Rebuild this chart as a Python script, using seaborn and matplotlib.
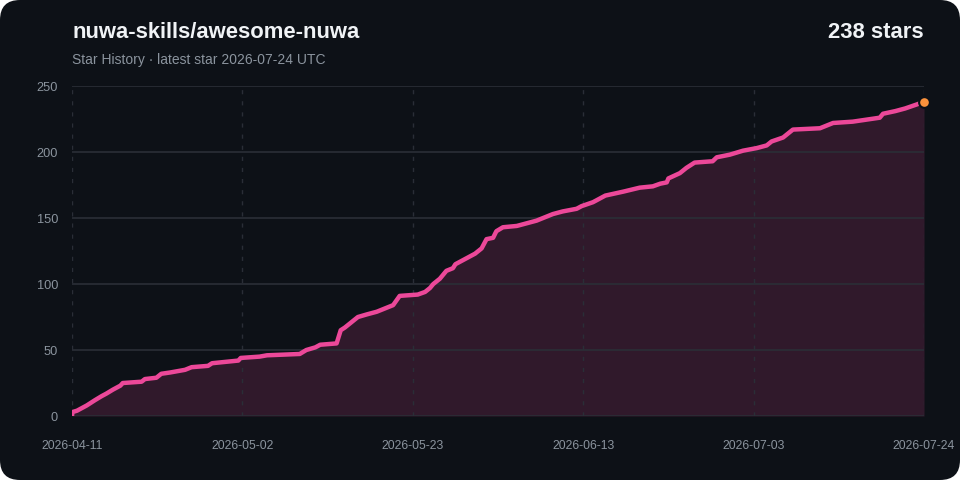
import numpy as np
import pandas as pd
import matplotlib
matplotlib.use("Agg")
import matplotlib.pyplot as plt
import matplotlib.dates as mdates
from matplotlib.patches import FancyBboxPatch
import seaborn as sns

# ---- data ----
title = "nuwa-skills/awesome-nuwa"
subtitle = "Star History \u00b7 latest star 2026-07-24 UTC"
total_label = "238 stars"
start_date = "2026-04-11"
end_date = "2026-07-24"
days = [0, 0.05, 0.6, 1.8, 2.8, 3.6, 4.2, 5.0, 5.9, 6.2, 8.5, 8.9, 10.3, 10.9, 12.0,
        13.8, 14.6, 16.6, 17.1, 20.3, 20.6, 22.9, 23.8, 27.8, 28.6, 29.7, 30.3, 32.3,
        32.5, 32.8, 33.3, 33.9, 34.9, 36.0, 37.2, 38.4, 39.2, 40.0, 42.2, 43.1, 43.7,
        44.1, 44.9, 45.7, 46.5, 46.8, 47.7, 48.3, 49.2, 50.0, 50.6, 51.4, 51.8, 52.6,
        54.3, 55.5, 56.7, 57.9, 58.7, 59.9, 61.6, 62.2, 63.6, 65.1, 67.3, 69.3, 70.9,
        71.8, 72.6, 72.8, 74.2, 75.0, 76.0, 78.2, 78.7, 80.3, 81.9, 83.6, 84.8, 85.4,
        86.8, 88.0, 91.3, 92.9, 95.3, 98.6, 99.0, 100.5, 101.7, 103.1, 104.0]
stars = [0, 3, 4, 8, 12, 15, 17, 20, 23, 25, 26, 28, 29, 32, 33,
         35, 37, 38, 40, 42, 44, 45, 46, 47, 50, 52, 54, 55,
         59, 65, 67, 70, 75, 77, 79, 82, 84, 91, 92, 94, 97,
         100, 104, 110, 112, 115, 118, 120, 123, 127, 134, 135, 140, 143,
         144, 146, 148, 151, 153, 155, 157, 159, 162, 167, 170, 173, 174,
         176, 177, 180, 184, 188, 192, 193, 196, 198, 201, 203, 205, 208,
         211, 217, 218, 222, 223, 226, 229, 231, 233, 236, 238]
x_tick_labels = ["2026-04-11", "2026-05-02", "2026-05-23", "2026-06-13", "2026-07-03", "2026-07-24"]
y_ticks = [0, 50, 100, 150, 200, 250]

# ---- colours ----
BG = "#0d1117"
PINK = "#ec4899"
ORANGE = "#fb923c"
GRID = "#2a2e37"
MUTED = "#8b949e"
WHITE = "#f0f3f6"

sns.set_theme(style="dark")
plt.rcParams["font.family"] = ["Liberation Sans", "DejaVu Sans"]

df = pd.DataFrame({
    "date": pd.to_datetime(start_date) + pd.to_timedelta(days, unit="D"),
    "stars": stars,
})

fig = plt.figure(figsize=(9.6, 4.8), dpi=100)
fig.patch.set_facecolor("white")
card = FancyBboxPatch((0, 0), 9.6, 4.8, boxstyle="round,pad=0,rounding_size=0.2",
                      transform=fig.dpi_scale_trans, facecolor=BG, edgecolor="none", zorder=-10)
fig.patches.append(card)

ax = fig.add_axes([0.075, 0.1333, 0.8875, 0.6875])
ax.set_zorder(1)
ax.set_facecolor(BG)
ax.patch.set_alpha(0)

ax.fill_between(df["date"], df["stars"], 0, color=PINK, alpha=0.16, linewidth=0, zorder=1)
sns.lineplot(data=df, x="date", y="stars", ax=ax, color=PINK, linewidth=3.2,
             solid_capstyle="round", solid_joinstyle="round", zorder=3)
ax.scatter([df["date"].iloc[-1]], [df["stars"].iloc[-1]], s=60, color=ORANGE,
           edgecolor=BG, linewidth=1.5, zorder=5, clip_on=False)

x0 = mdates.date2num(pd.to_datetime(start_date))
x1 = mdates.date2num(pd.to_datetime(end_date))
ax.set_xlim(x0, x1)
ax.set_ylim(0, 250)
xt = np.linspace(x0, x1, len(x_tick_labels))
ax.set_xticks(xt)
ax.set_xticklabels(x_tick_labels)
ax.set_yticks(y_ticks)
ax.set_yticklabels([str(v) for v in y_ticks])
ax.tick_params(axis="x", length=0, pad=17, labelsize=8.8, labelcolor=MUTED)
ax.tick_params(axis="y", length=0, pad=10, labelsize=9.2, labelcolor=MUTED)
ax.set_xlabel("")
ax.set_ylabel("")
for s in ax.spines.values():
    s.set_visible(False)

ax.grid(False)
for y in y_ticks:
    ax.axhline(y, color=GRID, linewidth=1.2, zorder=2)
for x in xt:
    ax.axvline(x, color=GRID, linewidth=1.0, linestyle=(0, (3, 5)), zorder=2)

fig.text(72 / 960, 1 - 33 / 480, title, ha="left", va="center", fontsize=15.8,
         fontweight="bold", color=WHITE)
fig.text(924 / 960, 1 - 33 / 480, total_label, ha="right", va="center", fontsize=15.8,
         fontweight="bold", color=WHITE)
fig.text(72 / 960, 1 - 60 / 480, subtitle, ha="left", va="center", fontsize=10,
         color=MUTED)

fig.savefig("out.png", dpi=100, facecolor=fig.get_facecolor())
